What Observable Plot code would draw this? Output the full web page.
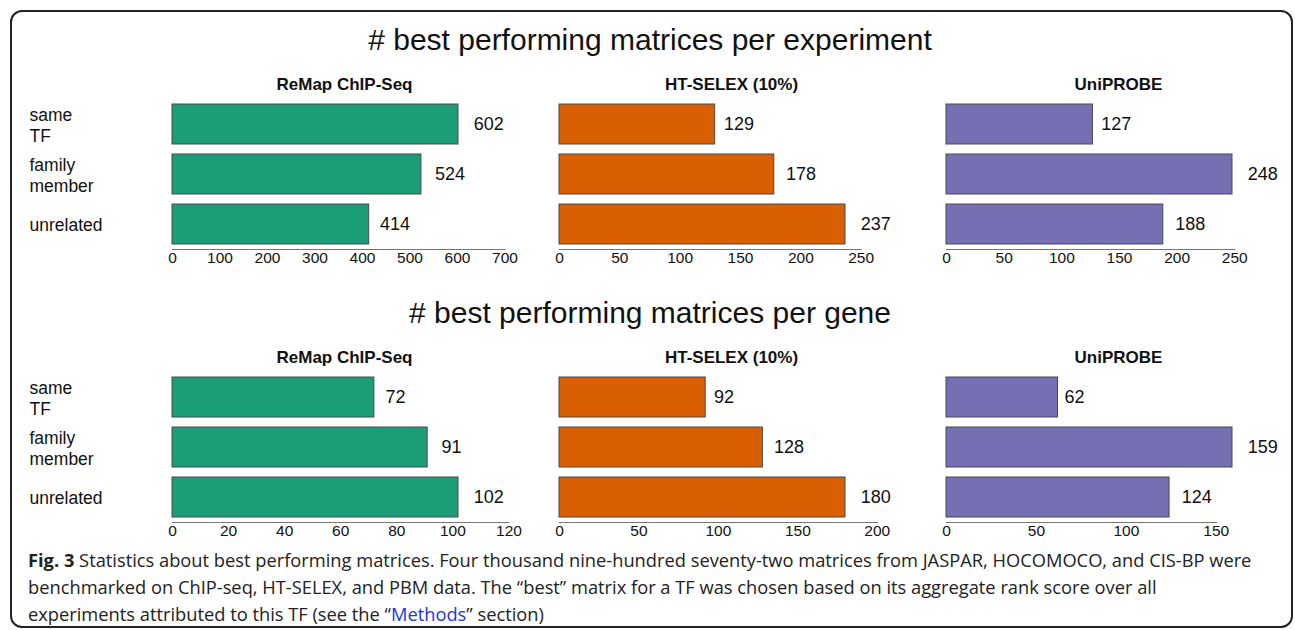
<!DOCTYPE html>
<html>
<head>
<meta charset="utf-8">
<script src="https://cdn.jsdelivr.net/npm/d3@7"></script>
<script src="https://cdn.jsdelivr.net/npm/@observablehq/plot@0.6"></script>
<style>
  html, body { margin: 0; padding: 0; background: #fff; }
  #root { position: relative; width: 1295px; height: 630px; overflow: hidden; font-family: "Liberation Sans", Arial, sans-serif; }
  .border { position: absolute; left: 10px; top: 10px; width: 1283px; height: 618px; box-sizing: border-box; border: 2px solid #222; border-radius: 12px; }
  .main-title { position: absolute; left: 0; width: 1300px; text-align: center; font-size: 30px; color: #111; line-height: 34px; }
  .panel { position: absolute; }
  .panel svg { max-width: none !important; display: block; }
  .caption { position: absolute; left: 28px; top: 546px; width: 1262px; white-space: nowrap; font-family: "Open Sans", sans-serif; font-size: 18.3px; line-height: 27px; color: #222; }
  .caption b { font-weight: 700; }
  .caption .link { color: #2233dd; }
</style>
</head>
<body>
<div id="root">
  <div class="border"></div>
</div>
<script>
// ---- data ----
const categories = ["same\nTF", "family\nmember", "unrelated"];
const experiments = ["ReMap ChIP-Seq", "HT-SELEX (10%)", "UniPROBE"];
const colors = ["#1B9E77", "#D95F02", "#7570B3"];
const rowTitles = ["# best performing matrices per experiment", "# best performing matrices per gene"];

const perExperimentReMap = [602, 524, 414];
const perExperimentSelex = [129, 178, 237];
const perExperimentUniprobe = [127, 248, 188];
const perGeneReMap = [72, 91, 102];
const perGeneSelex = [92, 128, 180];
const perGeneUniprobe = [62, 159, 124];

const ticksExperimentReMap = [0, 100, 200, 300, 400, 500, 600, 700];
const ticksExperimentSelex = [0, 50, 100, 150, 200, 250];
const ticksExperimentUniprobe = [0, 50, 100, 150, 200, 250];
const ticksGeneReMap = [0, 20, 40, 60, 80, 100, 120];
const ticksGeneSelex = [0, 50, 100, 150, 200];
const ticksGeneUniprobe = [0, 50, 100, 150];

// ---- layout ----
const root = document.getElementById("root");
const panelLeft = [172, 559, 946];   // x of the zero line of each panel
const rowTop = [60, 333];            // top of each row's SVG
const maxBarPx = 286;                // length of the longest bar in every panel

const rows = [
  [perExperimentReMap, perExperimentSelex, perExperimentUniprobe],
  [perGeneReMap, perGeneSelex, perGeneUniprobe]
];
const rowTicks = [
  [ticksExperimentReMap, ticksExperimentSelex, ticksExperimentUniprobe],
  [ticksGeneReMap, ticksGeneSelex, ticksGeneUniprobe]
];

function panel(values, ticks, color, title, showLabels) {
  const data = categories.map((c, i) => ({cat: c, v: values[i]}));
  const max = d3.max(values);
  const last = ticks[ticks.length - 1];
  const fw = last * maxBarPx / max;
  const marginLeft = showLabels ? 162 : 20;
  const marginRight = Math.max(0, 345 - fw) + 5;
  const width = Math.round(marginLeft + fw + marginRight);
  const chart = Plot.plot({
    width,
    height: 215,
    marginLeft,
    marginRight: width - marginLeft - fw,
    marginTop: 38,
    marginBottom: 26,
    style: {fontFamily: "Liberation Sans, Arial, sans-serif", background: "transparent", color: "#111", overflow: "visible", maxWidth: "none"},
    x: {domain: [0, last], axis: null, label: null},
    y: {domain: categories, paddingInner: 0.2, paddingOuter: 0.1, axis: null, label: null},
    marks: [
      Plot.barX(data, {x: "v", y: "cat", fill: color, stroke: "#4a4a4a", strokeWidth: 1}),
      Plot.frame({anchor: "bottom", stroke: "#777", strokeWidth: 1}),
      Plot.axisX({ticks, tickSize: 0, tickPadding: 2, fontSize: 15.5, label: null, tickFormat: d => String(d)}),
      Plot.text(data, {x: d => d.v * 1.05, y: "cat", text: d => String(d.v), fontSize: 18, textAnchor: "start", dx: 1}),
      Plot.text([title], {frameAnchor: "top-left", dx: 172, dy: -14, lineAnchor: "middle", textAnchor: "middle", fontWeight: "bold", fontSize: 17}),
      showLabels ? Plot.text(data, {y: "cat", text: "cat", frameAnchor: "left", dx: -143, textAnchor: "start", fontSize: 17.5, lineHeight: 1.2}) : null
    ]
  });
  return {chart, marginLeft, width};
}

rows.forEach((row, r) => {
  const t = document.createElement("div");
  t.className = "main-title";
  t.style.top = (rowTop[r] - 37) + "px";
  t.textContent = rowTitles[r];
  root.appendChild(t);
  row.forEach((values, p) => {
    const {chart, marginLeft, width} = panel(values, rowTicks[r][p], colors[p], experiments[p], p === 0);
    const wrap = document.createElement("div");
    wrap.className = "panel";
    wrap.style.left = (panelLeft[p] - marginLeft) + "px";
    wrap.style.top = rowTop[r] + "px";
    wrap.style.width = width + "px";
    wrap.appendChild(chart);
    root.appendChild(wrap);
  });
});

const cap = document.createElement("div");
cap.className = "caption";
cap.innerHTML = '<b>Fig. 3</b> Statistics about best performing matrices. Four thousand nine-hundred seventy-two matrices from JASPAR, HOCOMOCO, and CIS-BP were<br>benchmarked on ChIP-seq, HT-SELEX, and PBM data. The \u201cbest\u201d matrix for a TF was chosen based on its aggregate rank score over all<br>experiments attributed to this TF (see the \u201c<span class="link">Methods</span>\u201d section)';
root.appendChild(cap);
</script>
</body>
</html>
